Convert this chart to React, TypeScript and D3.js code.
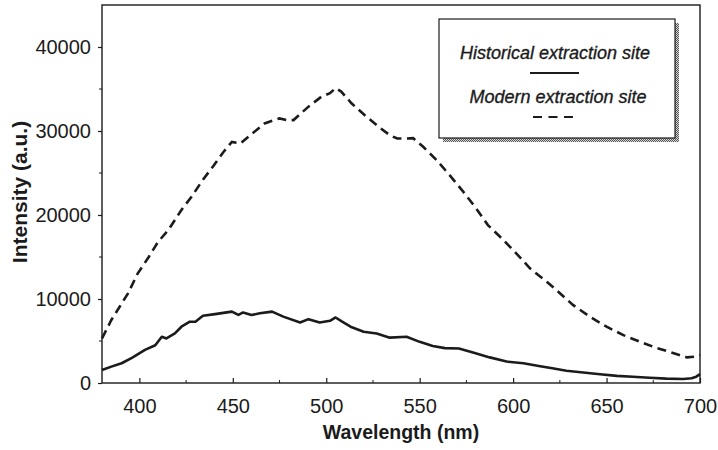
import * as d3 from 'd3';
import { useEffect, useRef } from 'react';

// wavelength (nm) / intensity (a.u.)
const historicalNm = [
  380, 385, 390.5, 396, 403, 408.5, 412, 414.5, 419, 422.5, 427, 430, 434, 440.5, 445, 449.5,
  453, 455.5, 460, 464.5, 471, 477, 486, 490.5, 496.5, 502, 505, 508.5, 513, 520, 527, 534,
  543, 550, 557, 563.5, 571, 579, 587.5, 596.5, 605.5, 614.5, 621, 628.5, 637.5, 646.5, 655.5,
  664, 673, 682, 691, 695.5, 698, 700,
];
const historicalValues = [
  1550, 1950, 2350, 3000, 3950, 4500, 5500, 5300, 5900, 6700, 7300, 7300, 8000, 8200, 8350, 8500,
  8100, 8400, 8100, 8300, 8500, 7900, 7200, 7600, 7200, 7400, 7800, 7300, 6700, 6100, 5900, 5400,
  5500, 4900, 4400, 4150, 4100, 3600, 3050, 2550, 2350, 2000, 1750, 1450, 1250, 1050, 850,
  750, 630, 520, 480, 560, 750, 1050,
];

const modernNm = [
  380, 385, 394, 399, 405, 410, 415.5, 422.5, 428, 434, 439.5, 445, 449.5, 454, 459, 467, 475,
  479, 482.5, 490.5, 497.5, 502, 505, 508, 513.5, 520.5, 528, 534, 538, 543, 546.5, 552, 559,
  566, 572.5, 579.5, 586.5, 594, 601, 609, 618, 624, 632, 641, 650, 659, 668, 677, 686, 693,
  697, 700,
];
const modernValues = [
  5300, 7500, 10700, 13000, 15000, 16800, 18200, 20600, 22200, 24200, 25800, 27500, 28700, 28500,
  29450, 30900, 31500, 31300, 31300, 32900, 34100, 34500, 35100, 34700, 33300, 31900, 30500, 29500,
  29100, 29100, 29150, 28100, 26550, 24750, 23000, 21000, 18800, 17200, 15600, 13650, 12050, 10900,
  9300, 7900, 6700, 5700, 4900, 4150, 3550, 3050, 3130, 3350,
];

const xTicks = [400, 450, 500, 550, 600, 650, 700];
const xMinor = [425, 475, 525, 575, 625, 675];
const yTicks = [0, 10000, 20000, 30000, 40000];
const yMinor = [5000, 15000, 25000, 35000];

const seriesNames = ['Historical extraction site', 'Modern extraction site'];

const W = 718;
const H = 450;
const ink = '#1b1b1b';
const font = '"Liberation Sans", Arial, sans-serif';

export default function App() {
  const svgRef = useRef<SVGSVGElement>(null);

  useEffect(() => {
    const svgEl = svgRef.current;
    if (!svgEl) return;
    const svg = d3.select(svgEl);
    svg.selectAll('*').remove();

    const left = 102;
    const right = 700;
    const top = 5;
    const bottom = 383;

    const x = d3.scaleLinear().domain([380, 700]).range([left, right]);
    const y = d3.scaleLinear().domain([0, 45000]).range([bottom, top]);

    // stipple pattern for the legend shadow
    const defs = svg.append('defs');
    const pat = defs
      .append('pattern')
      .attr('id', 'stipple')
      .attr('width', 2)
      .attr('height', 2)
      .attr('patternUnits', 'userSpaceOnUse');
    pat.append('rect').attr('width', 2).attr('height', 2).attr('fill', '#d8d8d8');
    pat.append('rect').attr('width', 1).attr('height', 1).attr('fill', '#555');
    pat.append('rect').attr('x', 1).attr('y', 1).attr('width', 1).attr('height', 1).attr('fill', '#555');

    // frame
    svg
      .append('rect')
      .attr('x', left)
      .attr('y', top)
      .attr('width', right - left)
      .attr('height', bottom - top)
      .attr('fill', 'none')
      .attr('stroke', ink)
      .attr('stroke-width', 1.4);

    // x axis
    const xAxis = svg
      .append('g')
      .attr('transform', `translate(0,${bottom})`)
      .call(
        d3
          .axisBottom(x)
          .tickValues(xTicks)
          .tickSizeInner(-5)
          .tickSizeOuter(0)
          .tickPadding(16)
          .tickFormat(d3.format('d')),
      );
    xAxis.select('.domain').remove();
    xAxis.selectAll('line').attr('stroke', ink).attr('stroke-width', 1.2);
    xAxis
      .selectAll('text')
      .attr('font-family', font)
      .attr('font-size', 20)
      .attr('fill', ink);

    svg
      .append('g')
      .selectAll('line')
      .data(xMinor)
      .join('line')
      .attr('x1', (d) => x(d))
      .attr('x2', (d) => x(d))
      .attr('y1', bottom)
      .attr('y2', bottom - 3)
      .attr('stroke', ink)
      .attr('stroke-width', 1);

    // y axis
    const yAxis = svg
      .append('g')
      .attr('transform', `translate(${left},0)`)
      .call(
        d3
          .axisLeft(y)
          .tickValues(yTicks)
          .tickSizeInner(4)
          .tickSizeOuter(0)
          .tickPadding(7)
          .tickFormat(d3.format('d')),
      );
    yAxis.select('.domain').remove();
    yAxis.selectAll('line').attr('stroke', ink).attr('stroke-width', 1.2);
    yAxis
      .selectAll('text')
      .attr('font-family', font)
      .attr('font-size', 20)
      .attr('fill', ink);

    svg
      .append('g')
      .selectAll('line')
      .data(yMinor)
      .join('line')
      .attr('x1', left - 3)
      .attr('x2', left)
      .attr('y1', (d) => y(d))
      .attr('y2', (d) => y(d))
      .attr('stroke', ink)
      .attr('stroke-width', 1);

    // axis titles
    svg
      .append('text')
      .attr('x', (left + right) / 2)
      .attr('y', 439)
      .attr('text-anchor', 'middle')
      .attr('font-family', font)
      .attr('font-weight', 'bold')
      .attr('font-size', 19.5)
      .attr('fill', ink)
      .text('Wavelength (nm)');

    svg
      .append('text')
      .attr('transform', `translate(27,${(top + bottom) / 2 - 2}) rotate(-90)`)
      .attr('text-anchor', 'middle')
      .attr('font-family', font)
      .attr('font-weight', 'bold')
      .attr('font-size', 21)
      .attr('fill', ink)
      .text('Intensity (a.u.)');

    // curves
    const line = d3
      .line<[number, number]>()
      .x((d) => x(d[0]))
      .y((d) => y(d[1]));

    const historical = historicalNm.map((n, i) => [n, historicalValues[i]] as [number, number]);
    const modern = modernNm.map((n, i) => [n, modernValues[i]] as [number, number]);

    svg
      .append('path')
      .datum(modern)
      .attr('d', line)
      .attr('fill', 'none')
      .attr('stroke', ink)
      .attr('stroke-width', 2.6)
      .attr('stroke-dasharray', '9,5.5');

    svg
      .append('path')
      .datum(historical)
      .attr('d', line)
      .attr('fill', 'none')
      .attr('stroke', ink)
      .attr('stroke-width', 2.6)
      .attr('stroke-linejoin', 'round');

    // legend
    const lg = svg.append('g');
    lg.append('rect')
      .attr('x', 443)
      .attr('y', 23)
      .attr('width', 236)
      .attr('height', 119)
      .attr('fill', 'url(#stipple)');
    lg.append('rect')
      .attr('x', 439)
      .attr('y', 19)
      .attr('width', 236)
      .attr('height', 119)
      .attr('fill', '#fff')
      .attr('stroke', ink)
      .attr('stroke-width', 1.2);

    lg.selectAll('text')
      .data(seriesNames)
      .join('text')
      .attr('x', (_, i) => (i === 0 ? 555 : 558))
      .attr('y', (_, i) => (i === 0 ? 59 : 103))
      .attr('text-anchor', 'middle')
      .attr('font-family', font)
      .attr('font-style', 'italic')
      .attr('font-size', 18)
      .attr('fill', ink)
      .attr('stroke', ink)
      .attr('stroke-width', 0.35)
      .text((d) => d);

    lg.append('line')
      .attr('x1', 530)
      .attr('x2', 579)
      .attr('y1', 73)
      .attr('y2', 73)
      .attr('stroke', ink)
      .attr('stroke-width', 2.2);
    lg.append('line')
      .attr('x1', 533)
      .attr('x2', 573)
      .attr('y1', 117)
      .attr('y2', 117)
      .attr('stroke', ink)
      .attr('stroke-width', 2.2)
      .attr('stroke-dasharray', '9,6.5');
  }, []);

  return (
    <svg
      ref={svgRef}
      width={W}
      height={H}
      style={{ position: 'absolute', left: 0, top: 0, background: '#fff' }}
      role="img"
      aria-label="Fluorescence intensity versus wavelength"
    />
  );
}
